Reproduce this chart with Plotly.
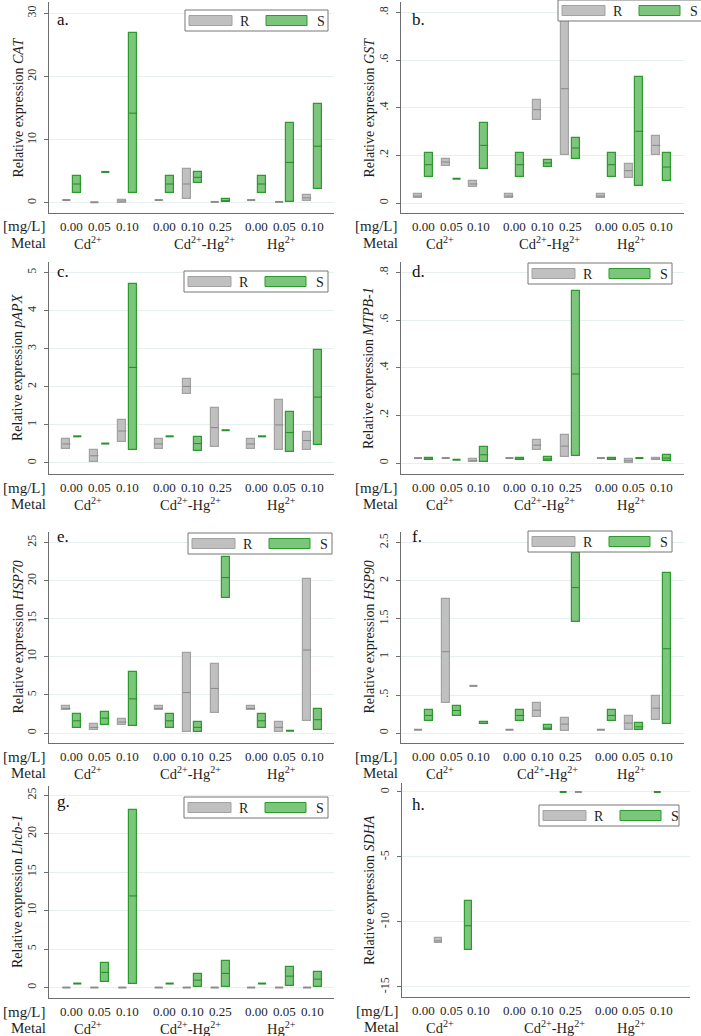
import plotly.graph_objects as go

W, H = 701, 1036

# ---------------- data ----------------
conc_labels = ["0.00", "0.05", "0.10", "0.00", "0.10", "0.25", "0.00", "0.05", "0.10"]
metal_labels = ["Cd<sup>2+</sup>", "Cd<sup>2+</sup>-Hg<sup>2+</sup>", "Hg<sup>2+</sup>"]
genes = ["CAT", "GST", "pAPX", "MTPB-1", "HSP70", "HSP90", "Lhcb-1", "SDHA"]
letters = ["a.", "b.", "c.", "d.", "e.", "f.", "g.", "h."]
series_names = ["R", "S"]

# (low, median, high) per category, R = grey, S = green
CAT_R = [(0.45, 0.45, 0.45), (0.1, 0.1, 0.1), (0.05, 0.3, 0.47), (0.45, 0.45, 0.45), (0.58, 2.99, 5.3),
         (0.15, 0.15, 0.15), (0.45, 0.45, 0.45), (0.15, 0.15, 0.15), (0.3, 0.8, 1.3)]
CAT_S = [(1.63, 2.99, 4.3), (4.9, 4.9, 4.9), (1.63, 14.2, 26.95), (1.63, 2.99, 4.3), (3.2, 4.04, 4.82),
         (0.15, 0.35, 0.58), (1.63, 2.99, 4.3), (0.1, 6.4, 12.7), (2.15, 8.97, 15.6)]

GST_R = [(0.02, 0.029, 0.039), (0.157, 0.172, 0.186), (0.067, 0.08, 0.091), (0.02, 0.029, 0.039),
         (0.347, 0.392, 0.434), (0.2, 0.48, 0.77), (0.02, 0.029, 0.039), (0.105, 0.136, 0.165),
         (0.2, 0.242, 0.283)]
GST_S = [(0.109, 0.161, 0.21), (0.102, 0.102, 0.102), (0.144, 0.242, 0.336), (0.109, 0.161, 0.21),
         (0.151, 0.168, 0.182), (0.186, 0.231, 0.275), (0.109, 0.161, 0.21), (0.073, 0.301, 0.53),
         (0.091, 0.151, 0.21)]

pAPX_R = [(0.37, 0.5, 0.63), (0.035, 0.19, 0.35), (0.55, 0.84, 1.13), (0.37, 0.5, 0.63), (1.81, 2.01, 2.2),
          (0.42, 0.93, 1.44), (0.37, 0.5, 0.63), (0.33, 1.0, 1.66), (0.35, 0.59, 0.81)]
pAPX_S = [(0.7, 0.7, 0.7), (0.51, 0.51, 0.51), (0.33, 2.51, 4.69), (0.7, 0.7, 0.7), (0.32, 0.51, 0.67),
          (0.86, 0.86, 0.86), (0.7, 0.7, 0.7), (0.29, 0.8, 1.33), (0.48, 1.73, 2.98)]

MTPB_R = [(0.021, 0.021, 0.021), (0.021, 0.021, 0.021), (0.003, 0.01, 0.018), (0.021, 0.021, 0.021),
          (0.056, 0.075, 0.098), (0.025, 0.071, 0.119), (0.021, 0.021, 0.021), (0.001, 0.01, 0.017),
          (0.011, 0.017, 0.022)]
MTPB_S = [(0.011, 0.017, 0.022), (0.014, 0.014, 0.014), (0.004, 0.035, 0.066), (0.011, 0.017, 0.022),
          (0.008, 0.017, 0.025), (0.028, 0.374, 0.722), (0.011, 0.017, 0.022), (0.021, 0.021, 0.021),
          (0.007, 0.021, 0.032)]

HSP70_R = [(2.97, 3.23, 3.49), (0.35, 0.74, 1.18), (1.05, 1.44, 1.88), (2.97, 3.23, 3.49), (0.09, 5.32, 10.47),
           (2.62, 5.85, 9.07), (2.97, 3.23, 3.49), (0.13, 0.74, 1.4), (1.61, 10.9, 20.24)]
HSP70_S = [(0.65, 1.61, 2.49), (1.09, 1.96, 2.79), (0.87, 4.49, 8.07), (0.65, 1.61, 2.49), (0.13, 0.74, 1.48),
           (17.67, 20.42, 23.12), (0.65, 1.61, 2.49), (0.3, 0.3, 0.3), (0.44, 1.75, 3.18)]

HSP90_R = [(0.044, 0.044, 0.044), (0.401, 1.069, 1.754), (0.62, 0.62, 0.62), (0.044, 0.044, 0.044),
           (0.209, 0.301, 0.393), (0.022, 0.118, 0.196), (0.044, 0.044, 0.044), (0.035, 0.131, 0.218),
           (0.175, 0.327, 0.493)]
HSP90_S = [(0.161, 0.231, 0.297), (0.231, 0.297, 0.362), (0.113, 0.126, 0.14), (0.161, 0.231, 0.297),
           (0.035, 0.065, 0.1), (1.462, 1.911, 2.369), (0.161, 0.231, 0.297), (0.035, 0.083, 0.131),
           (0.118, 1.108, 2.107)]

Lhcb_R = [(0.0, 0.0, 0.0), (0.0, 0.0, 0.0), (0.0, 0.0, 0.0), (0.0, 0.0, 0.0), (0.0, 0.0, 0.0),
          (0.0, 0.0, 0.0), (0.0, 0.0, 0.0), (0.0, 0.0, 0.0), (0.0, 0.0, 0.0)]
Lhcb_S = [(0.52, 0.52, 0.52), (0.74, 1.96, 3.22), (0.52, 11.91, 23.13), (0.52, 0.52, 0.52), (0.04, 0.96, 1.7),
          (0.09, 1.83, 3.48), (0.52, 0.52, 0.52), (0.22, 1.48, 2.7), (0.09, 1.09, 2.04)]

SDHA_R = [(-11.65, -11.45, -11.27), None, None, None, None, (0.0, 0.0, 0.0), None, None, None]
SDHA_S = [None, (-12.17, -10.29, -8.36), None, None, (0.0, 0.0, 0.0), None, None, None, (0.0, 0.0, 0.0)]

# ---------------- layout constants ----------------
cat_x = [0, 1, 2, 3.3, 4.3, 5.3, 6.6, 7.6, 8.6]
R_off, S_off, BW = -0.19, 0.20, 0.29
# panel h places its marks differently
h_R_x = [0.55, None, None, None, None, 5.6, None, None, None]
h_S_x = [None, 1.62, None, None, 5.05, None, None, None, 8.45]
h_BW = 0.25

GREY_FILL, GREY_LINE, GREY_MED = "#c0c0c0", "#a2a2a2", "#8c8c8c"
GREEN_FILL, GREEN_LINE, GREEN_MED = "#7dc47d", "#2b9b2b", "#2b8f2b"
AXC = "#6e6e6e"
GRID = "#e6f0f0"
TXT = "#1e1e1e"
SERIF = "'Liberation Serif', Tinos, 'Times New Roman', 'Noto Serif', 'DejaVu Serif', serif"

def px(x):
    return x / W

def py(y):
    return 1 - y / H

panels = [
    dict(R=CAT_R, S=CAT_S, yr=[-1.6, 31.8], tv=[0, 10, 20, 30], tt=["0", "10", "20", "30"],
         xd=(49, 334), yd=(2, 213), xr=[-0.81, 9.37], leg=(185, 10, 143), let=(55, 20), cdhg=4.76),
    dict(R=GST_R, S=GST_S, yr=[-0.042, 0.844], tv=[0, .2, .4, .6, .8], tt=["0", ".2", ".4", ".6", ".8"],
         xd=(401, 684), yd=(2, 213), xr=[-0.805, 9.41], leg=(558, 0, 145), let=(410, 19), cdhg=4.54),
    dict(R=pAPX_R, S=pAPX_S, yr=[-0.29, 5.28], tv=[0, 1, 2, 3, 4, 5], tt=["0", "1", "2", "3", "4", "5"],
         xd=(49, 334), yd=(262, 474), xr=[-0.81, 9.37], leg=(184, 271, 144), let=(55, 272), cdhg=4.26),
    dict(R=MTPB_R, S=MTPB_S, yr=[-0.046, 0.844], tv=[0, .2, .4, .6, .8], tt=["0", ".2", ".4", ".6", ".8"],
         xd=(401, 684), yd=(262, 474), xr=[-0.805, 9.41], leg=(528, 263, 144), let=(410, 271), cdhg=4.38),
    dict(R=HSP70_R, S=HSP70_S, yr=[-1.31, 26.4], tv=[0, 5, 10, 15, 20, 25], tt=["0", "5", "10", "15", "20", "25"],
         xd=(49, 334), yd=(532, 743), xr=[-0.81, 9.37], leg=(188, 533, 144), let=(55, 536), cdhg=4.26),
    dict(R=HSP90_R, S=HSP90_S, yr=[-0.13, 2.64], tv=[0, .5, 1, 1.5, 2, 2.5], tt=["0", ".5", "1", "1.5", "2", "2.5"],
         xd=(401, 684), yd=(532, 743), xr=[-0.805, 9.41], leg=(528, 531, 144), let=(410, 536), cdhg=4.5),
    dict(R=Lhcb_R, S=Lhcb_S, yr=[-1.36, 26.2], tv=[0, 5, 10, 15, 20, 25], tt=["0", "5", "10", "15", "20", "25"],
         xd=(49, 334), yd=(786, 998), xr=[-0.81, 9.37], leg=(184, 797, 144), let=(55, 801), cdhg=4.26),
    dict(R=SDHA_R, S=SDHA_S, yr=[-15.77, 0.69], tv=[-15, -10, -5, 0], tt=["-15", "-10", "-5", "0"],
         xd=(402, 690), yd=(783, 997), xr=[-0.77, 9.63], leg=(539, 805, 140), let=(410, 804), cdhg=4.74),
]

fig = go.Figure()
layout = dict(width=W, height=H, margin=dict(l=0, r=0, t=0, b=0, pad=0), plot_bgcolor="white",
              paper_bgcolor="white", showlegend=False, barmode="overlay", bargap=0,
              font=dict(family=SERIF))
annotations = []
shapes = []

for i, p in enumerate(panels):
    sfx = "" if i == 0 else str(i + 1)
    xa, ya = "x" + sfx, "y" + sfx
    is_h = (i == 7)
    bw = h_BW if is_h else BW
    for sname, data in (("R", p["R"]), ("S", p["S"])):
        fill, line, med = (GREY_FILL, GREY_LINE, GREY_MED) if sname == "R" else (GREEN_FILL, GREEN_LINE, GREEN_MED)
        bx, bbase, bh = [], [], []
        mx, my, fx, fy = [], [], [], []
        for k, v in enumerate(data):
            if v is None:
                continue
            if is_h:
                xc = (h_R_x if sname == "R" else h_S_x)[k]
            else:
                xc = cat_x[k] + (R_off if sname == "R" else S_off)
            lo, md, hi = v
            if hi - lo > 0:
                bx.append(xc); bbase.append(lo); bh.append(hi - lo)
                mx += [xc - bw / 2, xc + bw / 2, None]; my += [md, md, None]
            else:
                fx += [xc - bw / 2, xc + bw / 2, None]; fy += [md, md, None]
        fig.add_trace(go.Bar(x=bx, y=bh, base=bbase, width=bw, xaxis=xa, yaxis=ya, name=sname,
                             marker=dict(color=fill, line=dict(color=line, width=1.2)),
                             hoverinfo="skip"))
        fig.add_trace(go.Scatter(x=mx, y=my, mode="lines", xaxis=xa, yaxis=ya,
                                 line=dict(color=med, width=1.1), hoverinfo="skip"))
        fig.add_trace(go.Scatter(x=fx, y=fy, mode="lines", xaxis=xa, yaxis=ya,
                                 line=dict(color=med, width=2), hoverinfo="skip"))

    x0, x1 = p["xd"]
    t, b = p["yd"]
    layout["xaxis" + sfx] = dict(domain=[px(x0), px(x1)], range=p["xr"], anchor=ya,
                                 showgrid=False, zeroline=False, showticklabels=False, ticks="",
                                 showline=True, linecolor=AXC, linewidth=1.3, fixedrange=True)
    layout["yaxis" + sfx] = dict(domain=[py(b), py(t)], range=p["yr"], anchor=xa,
                                 tickvals=p["tv"], ticktext=p["tt"], tickangle=-90,
                                 showgrid=True, gridcolor=GRID, gridwidth=1, zeroline=False,
                                 showline=True, linecolor=AXC, linewidth=1.3,
                                 ticks="outside", ticklen=4, tickcolor=AXC, ticklabelstandoff=3,
                                 tickfont=dict(family=SERIF, size=12, color="#333"), fixedrange=True)
    # y title
    tx = 18 if x0 < 200 else 369
    annotations.append(dict(text="Relative expression <i>%s</i>" % genes[i], textangle=-90,
                            xref="paper", yref="paper", x=px(tx), y=py((t + b) / 2),
                            xanchor="center", yanchor="middle", showarrow=False,
                            font=dict(family=SERIF, size=14, color=TXT)))
    # concentration + metal rows
    yc = py(b + 13.5)
    ym = py(b + 30)
    for k, lab in enumerate(conc_labels):
        annotations.append(dict(text=lab, xref=xa, yref="paper", x=cat_x[k], y=yc,
                                xanchor="center", yanchor="middle", showarrow=False,
                                font=dict(family=SERIF, size=13, color=TXT)))
    for xm, lab in zip([0.6, p["cdhg"], 7.5], metal_labels):
        annotations.append(dict(text=lab, xref=xa, yref="paper", x=xm, y=ym,
                                xanchor="center", yanchor="middle", showarrow=False,
                                font=dict(family=SERIF, size=14.5, color=TXT)))
    annotations.append(dict(text="[mg/L]", xref="paper", yref="paper", x=px(x0 - 1), y=yc,
                            xanchor="right", yanchor="middle", showarrow=False,
                            font=dict(family=SERIF, size=15, color=TXT)))
    annotations.append(dict(text="Metal", xref="paper", yref="paper", x=px(x0 - 1), y=ym,
                            xanchor="right", yanchor="middle", showarrow=False,
                            font=dict(family=SERIF, size=15, color=TXT)))
    # panel letter
    lx, ly = p["let"]
    annotations.append(dict(text=letters[i], xref="paper", yref="paper", x=px(lx), y=py(ly),
                            xanchor="left", yanchor="middle", showarrow=False,
                            font=dict(family=SERIF, size=17, color="#111")))
    # legend box
    L, T, Wd = p["leg"]
    shapes.append(dict(type="rect", xref="paper", yref="paper", x0=px(L), x1=px(L + Wd),
                       y0=py(T + 21), y1=py(T), fillcolor="white", line=dict(color="#777", width=1),
                       layer="above"))
    shapes.append(dict(type="rect", xref="paper", yref="paper", x0=px(L + 4), x1=px(L + 47),
                       y0=py(T + 15.5), y1=py(T + 5.5), fillcolor=GREY_FILL,
                       line=dict(color=GREY_LINE, width=1), layer="above"))
    shapes.append(dict(type="rect", xref="paper", yref="paper", x0=px(L + 81), x1=px(L + 122),
                       y0=py(T + 15.5), y1=py(T + 5.5), fillcolor=GREEN_FILL,
                       line=dict(color=GREEN_LINE, width=1), layer="above"))
    annotations.append(dict(text=series_names[0], xref="paper", yref="paper", x=px(L + 53), y=py(T + 11),
                            xanchor="left", yanchor="middle", showarrow=False,
                            font=dict(family=SERIF, size=14, color=TXT)))
    annotations.append(dict(text=series_names[1], xref="paper", yref="paper", x=px(L + 130), y=py(T + 11),
                            xanchor="left", yanchor="middle", showarrow=False,
                            font=dict(family=SERIF, size=14, color=TXT)))

layout["annotations"] = annotations
layout["shapes"] = shapes
fig.update_layout(**layout)
fig.write_html("out.html", config={"displayModeBar": False},
               post_script="document.body.style.margin='0';document.body.style.overflow='hidden';")
